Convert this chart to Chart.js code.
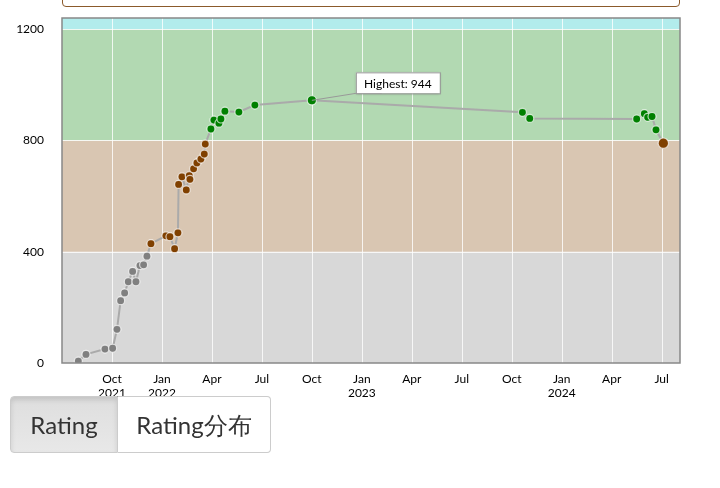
<!DOCTYPE html>
<html lang="ja">
<head>
<meta charset="UTF-8">
<title>Rating</title>
<script src="https://cdn.jsdelivr.net/npm/chart.js"></script>
<style>
  body { margin: 0; background: #fff; font-family: Lato, sans-serif; }
  #topbox { position: absolute; left: 62px; top: -10px; width: 616px; height: 15px;
    border: 1px solid #8b5a2b; border-radius: 0 0 4px 4px; }
  #wrap { position: absolute; left: 0; top: 0; width: 720px; height: 400px; }
  #btns { position: absolute; left: 10px; top: 396px; display: flex; }
  #btns div { height: 55px; line-height: 55px; font-size: 24px; color: #333; text-align: center;
    border: 1px solid #ccc; background: #fff; }
  #btns .on { width: 106px; background: linear-gradient(#dedede, #e8e8e8); box-shadow: inset 0 3px 5px rgba(0,0,0,.12);
    border-radius: 4px 0 0 4px; }
  #btns .off { width: 152px; border-left: none; border-radius: 0 4px 4px 0; }
</style>
</head>
<body>
<div id="topbox"></div>
<div id="wrap"><canvas id="rating"></canvas></div>
<div id="btns"><div class="on">Rating</div><div class="off">Rating分布</div></div>
<script>
  // x = months since Jan 2021 (0 = Jan 2021)
  const contestMonths = [6.98, 7.44, 8.58, 9.04, 9.3, 9.52, 9.76, 9.98, 10.24, 10.44, 10.68, 10.9, 11.1,
    11.34, 12.24, 12.48, 12.76, 12.96, 13.0, 13.2, 13.46, 13.64, 13.68, 13.9, 14.1, 14.34, 14.54, 14.6,
    14.94, 15.12, 15.42, 15.54, 15.78, 16.62, 17.58, 21.0, 33.64, 34.08, 40.5, 40.96, 41.16, 41.42, 41.66, 42.1];
  const ratings = [7, 31, 50, 53, 121, 224, 252, 292, 329, 292, 350, 353, 384,
    429, 457, 454, 411, 468, 642, 669, 622, 673, 660, 698, 719, 733, 751, 787,
    841, 873, 862, 877, 905, 902, 927, 944, 901, 879, 877, 896, 883, 886, 838, 790];
  const tickMonths = [9, 12, 15, 18, 21, 24, 27, 30, 33, 36, 39, 42];
  const tickLabels = [['Oct', '2021'], ['Jan', '2022'], 'Apr', 'Jul', 'Oct', ['Jan', '2023'], 'Apr', 'Jul', 'Oct', ['Jan', '2024'], 'Apr', 'Jul'];
  const yTicks = [0, 400, 800, 1200];
  const bandEdges = [0, 400, 800, 1200, 1600];
  const bandColors = ['#d8d8d8', '#d9c6b2', '#b2d9b2', '#b2ecec'];

  function rankColor(r) {
    if (r < 400) return '#808080';
    if (r < 800) return '#804000';
    return '#008000';
  }

  const highIdx = ratings.indexOf(Math.max(...ratings));
  const lastIdx = ratings.length - 1;

  // coloured rating bands behind the data
  const bands = {
    id: 'bands',
    beforeDatasetsDraw(chart) {
      const { ctx, chartArea: a, scales: { y } } = chart;
      ctx.save();
      ctx.beginPath(); ctx.rect(a.left, a.top, a.width, a.height); ctx.clip();
      for (let i = 0; i < bandColors.length; i++) {
        const t = y.getPixelForValue(bandEdges[i + 1]), b = y.getPixelForValue(bandEdges[i]);
        ctx.fillStyle = bandColors[i];
        ctx.fillRect(a.left, t, a.width, b - t);
      }
      ctx.strokeStyle = 'rgba(255,255,255,0.8)';
      ctx.lineWidth = 1;
      tickMonths.forEach(m => {
        const x = Math.round(chart.scales.x.getPixelForValue(m)) + 0.5;
        ctx.beginPath(); ctx.moveTo(x, a.top); ctx.lineTo(x, a.bottom); ctx.stroke();
      });
      [400, 800, 1200].forEach(v => {
        const yy = Math.round(y.getPixelForValue(v)) + 0.5;
        ctx.beginPath(); ctx.moveTo(a.left, yy); ctx.lineTo(a.right, yy); ctx.stroke();
      });
      ctx.restore();
    },
    afterDraw(chart) {
      const { ctx, chartArea: a } = chart;
      ctx.save();
      ctx.strokeStyle = '#888';
      ctx.lineWidth = 1.5;
      ctx.strokeRect(a.left, a.top, a.width, a.height);
      // highest label
      const p = chart.getDatasetMeta(0).data[highIdx];
      const bx = p.x + 44, by = p.y - 28, bw = 84, bh = 21;
      ctx.strokeStyle = '#999';
      ctx.lineWidth = 1;
      ctx.beginPath(); ctx.moveTo(p.x, p.y); ctx.lineTo(bx, by + bh); ctx.lineTo(bx + 26, by + bh); ctx.stroke();
      ctx.shadowColor = 'rgba(0,0,0,0.3)'; ctx.shadowBlur = 3; ctx.shadowOffsetY = 1;
      ctx.fillStyle = '#fff';
      ctx.fillRect(bx, by, bw, bh);
      ctx.shadowColor = 'transparent';
      ctx.strokeRect(bx + 0.5, by + 0.5, bw, bh);
      ctx.fillStyle = '#000';
      ctx.font = '12px Lato, sans-serif';
      ctx.textAlign = 'center'; ctx.textBaseline = 'middle';
      ctx.fillText('Highest: ' + ratings[highIdx], bx + bw / 2, by + bh / 2 + 1);
      ctx.restore();
    }
  };

  new Chart(document.getElementById('rating'), {
    type: 'line',
    data: {
      datasets: [{
        data: contestMonths.map((m, i) => ({ x: m, y: ratings[i] })),
        borderColor: '#aaa',
        borderWidth: 2,
        tension: 0,
        pointBackgroundColor: ratings.map(rankColor),
        pointBorderColor: 'rgba(255,255,255,0.7)',
        pointBorderWidth: 1.2,
        pointRadius: ratings.map((r, i) => i === lastIdx ? 5.2 : i === highIdx ? 4.6 : 4)
      }]
    },
    options: {
      responsive: true,
      maintainAspectRatio: false,
      animation: false,
      layout: { padding: { top: 18, right: 40 } },
      plugins: { legend: { display: false }, tooltip: { enabled: false } },
      scales: {
        x: {
          type: 'linear', min: 6, max: 43.1,
          grid: { display: false }, border: { display: false },
          afterBuildTicks: s => { s.ticks = tickMonths.map(v => ({ value: v })); },
          afterFit: s => { s.height = 37; },
          ticks: {
            autoSkip: false, maxRotation: 0, padding: 2, color: '#000',
            font: { family: 'Lato', size: 12, lineHeight: 1.1 },
            callback: (v) => tickLabels[tickMonths.indexOf(v)]
          }
        },
        y: {
          min: 0, max: 1240,
          grid: { display: false }, border: { display: false },
          afterBuildTicks: s => { s.ticks = yTicks.map(v => ({ value: v })); },
          afterFit: s => { s.width = 62; },
          ticks: { color: '#000', padding: 10, font: { family: 'Lato', size: 12 }, callback: v => String(v) }
        }
      }
    },
    plugins: [bands]
  });
</script>
</body>
</html>
